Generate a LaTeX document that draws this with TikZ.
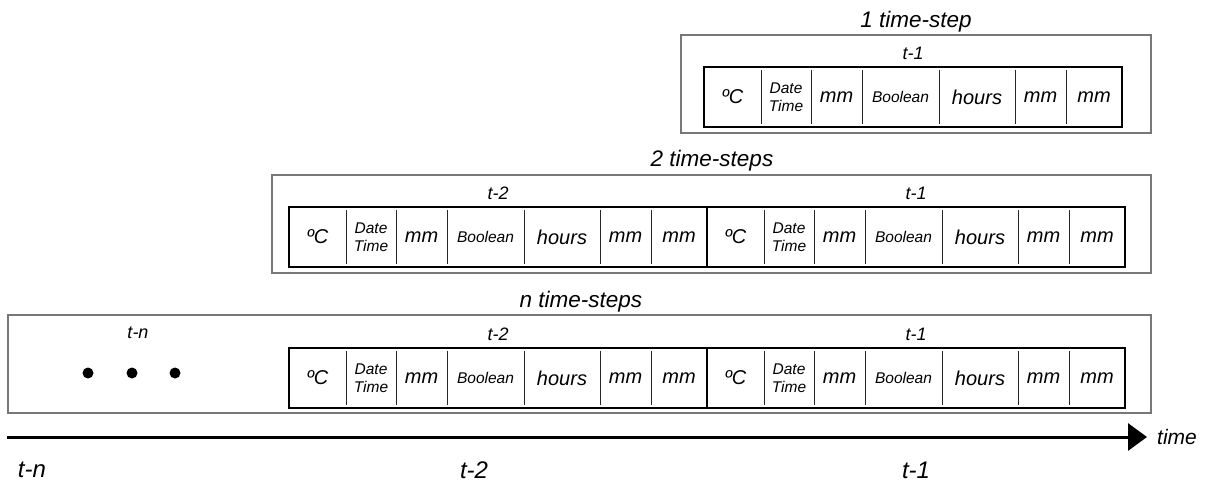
\documentclass[tikz,border=0pt]{standalone}
\usepackage{fontspec}
\setmainfont{Liberation Sans}
\usetikzlibrary{arrows.meta}
\definecolor{boxgray}{RGB}{120,120,120}
\newcommand{\fsz}[1]{\fontsize{#1}{#1}\selectfont}
\tikzset{
  outerbox/.style={draw=boxgray, line width=1.4pt, anchor=north west, inner sep=0pt, outer sep=0pt},
  grp/.style={draw=black, line width=1.5pt, anchor=north west, minimum width=418pt, minimum height=60pt, inner sep=0pt, outer sep=0pt},
  divider/.style={draw=black!85, line width=0.9pt},
  bigtxt/.style={font=\itshape\fsz{20}, inner sep=0pt},
  smalltxt/.style={font=\itshape\fsz{15.5}, inner sep=0pt, align=center},
  steplabel/.style={font=\itshape\fsz{18}, inner sep=0pt},
  titlelabel/.style={font=\itshape\fsz{22.5}, inner sep=0pt, anchor=base},
  axislabel/.style={font=\itshape\fsz{24}, inner sep=0pt},
  dotnode/.style={circle, fill=black, inner sep=0pt, minimum size=11pt},
}
% group of seven cells: #1 name, #2 left x, #3 top y
\newcommand{\tsgroup}[3]{%
  \node[grp] (#1) at (#2,#3) {};
  \foreach \o in {57,107,158,235,311,362} {
    \draw[divider] ([xshift=\o pt, yshift=-3pt]#1.north west) -- ([xshift=\o pt, yshift=3pt]#1.south west);
  }
  \node[bigtxt]   (#1c1) at ([xshift=28.5pt]#1.west) {ºC};
  \node[smalltxt] (#1c2) at ([xshift=82pt]#1.west) {Date\\[2pt]Time};
  \node[bigtxt]   (#1c3) at ([xshift=132.5pt]#1.west) {mm};
  \node[smalltxt] (#1c4) at ([xshift=196.5pt]#1.west) {Boolean};
  \node[bigtxt]   (#1c5) at ([xshift=273pt]#1.west) {hours};
  \node[bigtxt]   (#1c6) at ([xshift=336.5pt]#1.west) {mm};
  \node[bigtxt]   (#1c7) at ([xshift=390pt]#1.west) {mm};
}
\begin{document}
\begin{tikzpicture}[x=1pt,y=-1pt]
\useasboundingbox (0,0) rectangle (1212,491);

% ---- 1 time-step
\node[titlelabel] (title1) at (916,27) {1 time-step};
\node[outerbox, minimum width=470pt, minimum height=98pt] (outer1) at (681,35) {};
\tsgroup{ga}{704}{67}
\node[steplabel] (la) at ([yshift=14pt]ga.north) {t-1};

% ---- 2 time-steps
\node[titlelabel] (title2) at (712,166) {2 time-steps};
\node[outerbox, minimum width=879pt, minimum height=98pt] (outer2) at (272,175) {};
\tsgroup{gb}{289}{207}
\tsgroup{gc}{707}{207}
\node[steplabel] (lb) at ([yshift=14pt]gb.north) {t-2};
\node[steplabel] (lc) at ([yshift=14pt]gc.north) {t-1};

% ---- n time-steps
\node[titlelabel] (title3) at (581,307) {n time-steps};
\node[outerbox, minimum width=1143pt, minimum height=98pt] (outer3) at (8,315) {};
\tsgroup{gd}{289}{348}
\tsgroup{ge}{707}{348}
\node[steplabel] (ld) at ([yshift=14pt]gd.north) {t-2};
\node[steplabel] (le) at ([yshift=14pt]ge.north) {t-1};
\node[steplabel] (ln) at (138,333) {t-n};
\node[dotnode] (d1) at (88,373) {};
\node[dotnode] (d2) at (132,373) {};
\node[dotnode] (d3) at (175,373) {};

% ---- time axis
\coordinate (axstart) at (7,437);
\coordinate (axend) at (1147,437);
\draw[line width=3pt, -{Triangle[length=19pt,width=27pt]}] (axstart) -- (axend);
\node[font=\itshape\fsz{21}, inner sep=0pt, anchor=west] (timelbl) at (1157,437) {time};
\node[axislabel] (tn) at (32,470) {t-n};
\node[axislabel] (t2) at (474,470) {t-2};
\node[axislabel] (t1) at (916,470) {t-1};
\end{tikzpicture}
\end{document}
